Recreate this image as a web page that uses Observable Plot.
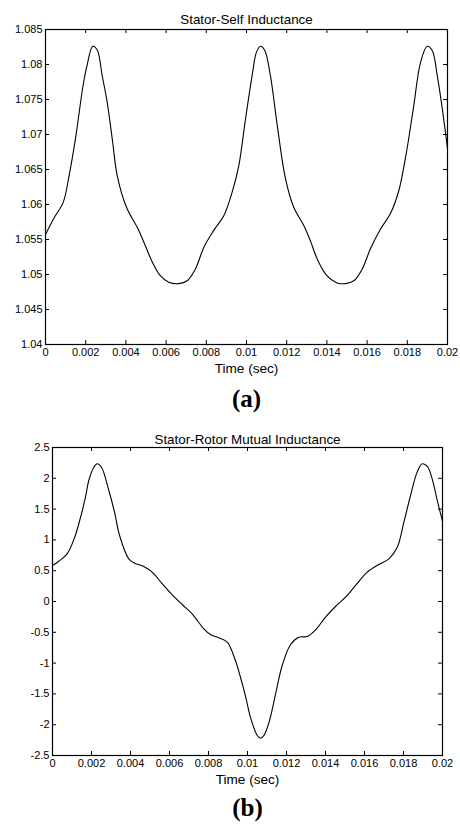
<!DOCTYPE html>
<html>
<head>
<meta charset="utf-8">
<script src="https://cdn.jsdelivr.net/npm/d3@7"></script>
<script src="https://cdn.jsdelivr.net/npm/@observablehq/plot@0.6"></script>
<style>
  html, body { margin: 0; padding: 0; background: #fff; }
  #chart svg { display: block; }
</style>
</head>
<body>
<div id="chart"></div>
<script>
// ---- Data ----
const titleA = "Stator-Self Inductance";
const titleB = "Stator-Rotor Mutual Inductance";
const xLabel = "Time (sec)";
const captionA = "(a)";
const captionB = "(b)";

const xTicks = [0, 0.002, 0.004, 0.006, 0.008, 0.01, 0.012, 0.014, 0.016, 0.018, 0.02];
const yTicksA = [1.04, 1.045, 1.05, 1.055, 1.06, 1.065, 1.07, 1.075, 1.08, 1.085];
const yTicksB = [-2.5, -2, -1.5, -1, -0.5, 0, 0.5, 1, 1.5, 2, 2.5];

const tA = [0, 0.00041, 0.00088, 0.00116, 0.00149, 0.00187, 0.00207, 0.00235, 0.00257, 0.00282,
  0.00307, 0.00332, 0.00357, 0.00403, 0.00464, 0.00531, 0.00569, 0.00613, 0.00663, 0.00705,
  0.00746, 0.00788, 0.00837, 0.00887, 0.00929, 0.00962, 0.00995, 0.01028, 0.0105, 0.0107,
  0.01091, 0.01119, 0.01153, 0.01194, 0.01235, 0.01285, 0.01318, 0.01352, 0.01398, 0.01451,
  0.01493, 0.01534, 0.01576, 0.01617, 0.01667, 0.01716, 0.01758, 0.01796, 0.01832, 0.01866,
  0.01899, 0.01924, 0.01949, 0.01974, 0.02];
const LA = [1.0557, 1.0580, 1.0603, 1.0639, 1.0694, 1.0770, 1.0799, 1.0826, 1.0821, 1.0784,
  1.0746, 1.0694, 1.0641, 1.0596, 1.0563, 1.0518, 1.0499, 1.0489, 1.0487, 1.0491,
  1.0508, 1.0539, 1.0563, 1.0584, 1.0618, 1.0656, 1.0722, 1.0784, 1.0818, 1.0826,
  1.0820, 1.0784, 1.0713, 1.0637, 1.0596, 1.0570, 1.0548, 1.0522, 1.0499, 1.0488,
  1.0487, 1.0491, 1.0508, 1.0537, 1.0565, 1.0587, 1.0620, 1.0675, 1.0741, 1.0803,
  1.0826, 1.0820, 1.0784, 1.0737, 1.0680];

const tB = [0, 0.00032, 0.00075, 0.00114, 0.00144, 0.00169, 0.00186, 0.00212, 0.00229, 0.00251,
  0.00289, 0.0032, 0.00344, 0.00391, 0.00422, 0.00468, 0.00511, 0.00563, 0.00614, 0.00665,
  0.00716, 0.00776, 0.0081, 0.00853, 0.00896, 0.00938, 0.00964, 0.0099, 0.01015, 0.0105,
  0.01067, 0.01084, 0.01113, 0.01144, 0.01178, 0.01221, 0.01263, 0.01306, 0.01349, 0.014,
  0.01451, 0.01503, 0.01554, 0.01614, 0.01673, 0.01725, 0.01768, 0.01802, 0.01836, 0.0187,
  0.01896, 0.01922, 0.01947, 0.01973, 0.02];
const LB = [0.584, 0.654, 0.774, 1.044, 1.368, 1.693, 1.964, 2.18, 2.235, 2.18,
  1.802, 1.424, 1.071, 0.693, 0.622, 0.568, 0.476, 0.287, 0.108, -0.049,
  -0.2, -0.443, -0.536, -0.59, -0.66, -0.958, -1.23, -1.54, -1.878, -2.175,
  -2.219, -2.175, -1.932, -1.5, -1.039, -0.698, -0.58, -0.568, -0.46, -0.255,
  -0.081, 0.07, 0.26, 0.476, 0.6, 0.693, 0.881, 1.287, 1.721, 2.1,
  2.235, 2.192, 1.992, 1.64, 1.3];

// ---- Rendering ----
const fmt = d => String(d);
const W = 460;
const SANS = "'Liberation Sans', Arial, sans-serif";
const SERIF = "'Liberation Serif', 'Times New Roman', serif";

function panel({t, v, yTicks, title, caption, height, mt, mb, ml, mr, titleDy, captionDy}) {
  const data = t.map((x, i) => ({t: x, v: v[i]}));
  const plotW = W - ml - mr;
  const plotH = height - mt - mb;
  const tick = 4;
  return Plot.plot({
    width: W,
    height,
    marginTop: mt, marginBottom: mb, marginLeft: ml, marginRight: mr,
    style: {fontFamily: SANS, fontSize: "11px", color: "#000", background: "#fff"},
    x: {domain: [xTicks[0], xTicks[xTicks.length - 1]]},
    y: {domain: [yTicks[0], yTicks[yTicks.length - 1]]},
    marks: [
      Plot.axisX({ticks: xTicks, tickSize: 0, tickPadding: 4, tickFormat: fmt, label: null, fontSize: 11, fontFamily: SANS}),
      Plot.axisY({ticks: yTicks, tickSize: 0, tickPadding: 3, tickFormat: fmt, label: null, fontSize: 11, fontFamily: SANS}),
      Plot.tickX(xTicks, {x: d => d, stroke: "#000", insetTop: plotH - tick}),
      Plot.tickX(xTicks, {x: d => d, stroke: "#000", insetBottom: plotH - tick}),
      Plot.tickY(yTicks, {y: d => d, stroke: "#000", insetRight: plotW - tick}),
      Plot.tickY(yTicks, {y: d => d, stroke: "#000", insetLeft: plotW - tick}),
      Plot.line(data, {x: "t", y: "v", stroke: "#000", strokeWidth: 1.1, curve: "catmull-rom"}),
      Plot.frame({stroke: "#000", strokeWidth: 1.2}),
      Plot.text([title], {frameAnchor: "top", dy: titleDy, fill: "#000", fontSize: 13.4, fontFamily: SANS}),
      Plot.text([xLabel], {frameAnchor: "bottom", dy: 28, fill: "#000", fontSize: 13.6, fontFamily: SANS}),
      Plot.text([caption], {frameAnchor: "bottom", dy: captionDy, fill: "#000", fontSize: 25,
        fontWeight: "bold", fontFamily: SERIF})
    ]
  });
}

const chart = document.getElementById("chart");
chart.append(panel({t: tA, v: LA, yTicks: yTicksA, title: titleA, caption: captionA,
  height: 420, mt: 29, mb: 76, ml: 45, mr: 13, titleDy: -15, captionDy: 62}));
chart.append(panel({t: tB, v: LB, yTicks: yTicksB, title: titleB, caption: captionB,
  height: 409, mt: 27, mb: 74, ml: 52, mr: 18, titleDy: -13, captionDy: 60}));
</script>
</body>
</html>
